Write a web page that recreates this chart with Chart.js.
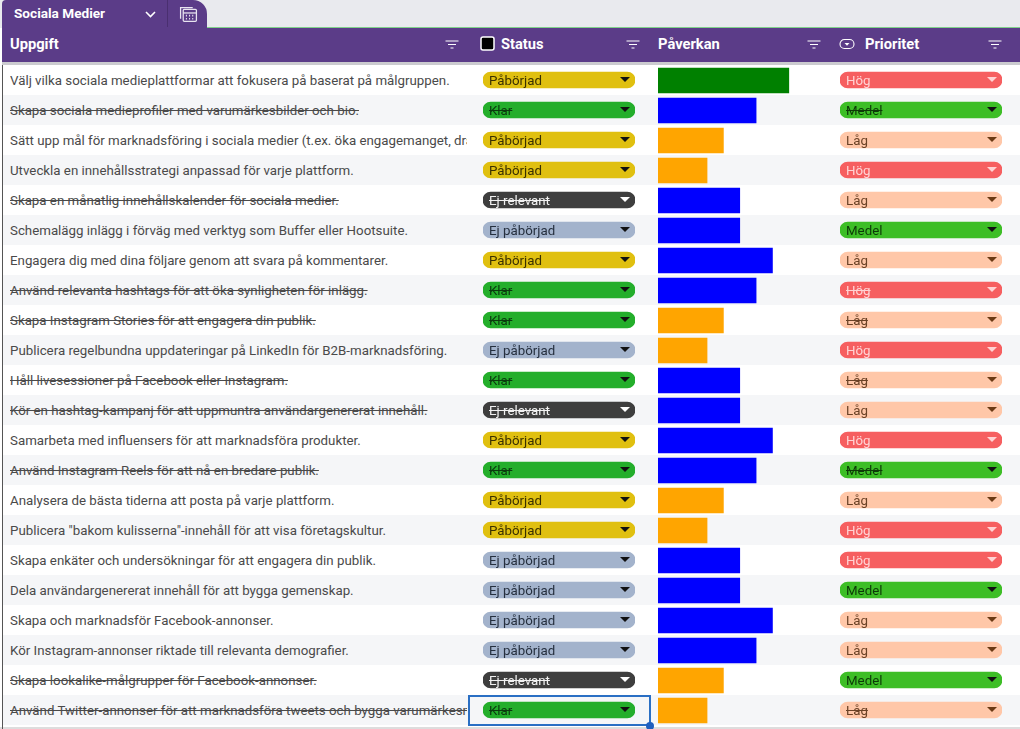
<!DOCTYPE html>
<html lang="sv"><head><meta charset="utf-8">
<script src="https://cdn.jsdelivr.net/npm/chart.js@4"></script>
<style>
html,body{margin:0;padding:0;width:1020px;height:729px;overflow:hidden;background:#fff;font-family:Roboto,sans-serif}
#top{position:absolute;left:0;top:0;width:1020px;height:28px;background:#E9EAEE}
#tab{position:absolute;left:2px;top:0;width:205px;height:28px;background:#5B3C88;border-radius:4px 14px 0 0;color:#fff;font-weight:700;font-size:13.6px;line-height:27px}
#tab span{position:absolute;left:12px;top:0}
#tabsep{position:absolute;left:165px;top:0;width:1px;height:27px;background:#4a2f70}
#hdr{position:absolute;left:2px;top:28px;width:1018px;height:34px;background:#5B3C88}
#gline{position:absolute;left:207px;top:27px;width:813px;height:1px;background:#7fd08a}
#shadow{position:absolute;left:2px;top:62px;width:1018px;height:3px;background:#CBCBCF}
#lline{position:absolute;left:2px;top:65px;width:1px;height:664px;background:#555;z-index:3}
#foot{position:absolute;left:0;top:727px;width:1020px;height:2px;background:#ddd}
.h{position:absolute;top:28px;height:34px;line-height:32px;color:#fff;font-weight:700;font-size:14.7px}
.row{position:absolute;left:3px;width:1017px;height:30px}
.task{position:absolute;left:10px;width:457px;height:30px;line-height:30px;font-size:13.3px;color:#4a4a4a;white-space:nowrap;overflow:hidden}
.lab{position:absolute;height:16px;line-height:16px;font-size:13.3px;white-space:nowrap}
.s{text-decoration:line-through}
#sel{position:absolute;left:468px;top:695px;width:183px;height:31px;box-sizing:border-box;border:2px solid #2A6FC4}
#dot{position:absolute;left:646px;top:722px;width:8px;height:8px;border-radius:50%;background:#1F5FBF}
.tri{position:absolute;width:0;height:0;border-left:5px solid transparent;border-right:5px solid transparent}
svg{position:absolute}
</style></head><body>
<div id="top"></div><div id="gline"></div>
<div id="hdr"></div><div id="shadow"></div>
<div id="tab"><span>Sociala Medier</span><div id="tabsep"></div></div>
<svg style="left:144px;top:10px" width="13" height="9" viewBox="0 0 13 9"><path d="M2 2l4.5 4.5L11 2" fill="none" stroke="#fff" stroke-width="1.6"/></svg>
<svg style="left:179px;top:4px" width="19" height="19" viewBox="0 0 18 18" fill="none" stroke="#e8e4f0" stroke-width="1.2"><path d="M1.5 14V3.5H13"/><rect x="4" y="5" width="12.5" height="11.5" rx="1"/><path d="M4 8.5h12.5"/><path d="M6.5 11h1M9.5 11h1M12.5 11h1M6.5 14h1M9.5 14h1M12.5 14h1" stroke-width="1.6"/></svg>
<div class="h" style="left:10px">Uppgift</div>
<div class="h" style="left:501px">Status</div>
<div class="h" style="left:658px">Påverkan</div>
<div class="h" style="left:865px">Prioritet</div>
<svg style="left:480px;top:36px" width="15" height="15" viewBox="0 0 15 15"><rect x="1" y="1" width="13" height="13" rx="2" fill="#000" stroke="#fff" stroke-width="1.5"/></svg>
<svg style="left:839px;top:37px" width="16" height="14" viewBox="0 0 16 14"><rect x="1" y="2.5" width="14" height="9" rx="4.5" fill="none" stroke="#fff" stroke-width="1.1"/><path d="M5.5 6h5L8 8.8z" fill="#fff"/></svg>
<div id="rows"></div>
<div id="foot"></div>
<div id="lline"></div>
<div id="charts"></div>
<div id="labels"></div>
<div id="sel"></div><div id="dot"></div>
<script>
const tasks=[
"Välj vilka sociala medieplattformar att fokusera på baserat på målgruppen.",
"Skapa sociala medieprofiler med varumärkesbilder och bio.",
"Sätt upp mål för marknadsföring i sociala medier (t.ex. öka engagemanget, dra trafik).",
"Utveckla en innehållsstrategi anpassad för varje plattform.",
"Skapa en månatlig innehållskalender för sociala medier.",
"Schemalägg inlägg i förväg med verktyg som Buffer eller Hootsuite.",
"Engagera dig med dina följare genom att svara på kommentarer.",
"Använd relevanta hashtags för att öka synligheten för inlägg.",
"Skapa Instagram Stories för att engagera din publik.",
"Publicera regelbundna uppdateringar på LinkedIn för B2B-marknadsföring.",
"Håll livesessioner på Facebook eller Instagram.",
"Kör en hashtag-kampanj för att uppmuntra användargenererat innehåll.",
"Samarbeta med influensers för att marknadsföra produkter.",
"Använd Instagram Reels för att nå en bredare publik.",
"Analysera de bästa tiderna att posta på varje plattform.",
"Publicera \"bakom kulisserna\"-innehåll för att visa företagskultur.",
"Skapa enkäter och undersökningar för att engagera din publik.",
"Dela användargenererat innehåll för att bygga gemenskap.",
"Skapa och marknadsför Facebook-annonser.",
"Kör Instagram-annonser riktade till relevanta demografier.",
"Skapa lookalike-målgrupper för Facebook-annonser.",
"Använd Twitter-annonser för att marknadsföra tweets och bygga varumärkesmedvetenhet."];
const struck=[0,1,0,0,1,0,0,1,1,0,1,1,0,1,0,0,0,0,0,0,1,1];
const prioStruck=[0,1,0,0,0,0,0,1,1,0,1,0,0,1,0,0,0,0,0,0,0,1];
const status=["Påbörjad","Klar","Påbörjad","Påbörjad","Ej relevant","Ej påbörjad","Påbörjad","Klar","Klar","Ej påbörjad","Klar","Ej relevant","Påbörjad","Klar","Påbörjad","Påbörjad","Ej påbörjad","Ej påbörjad","Ej påbörjad","Ej påbörjad","Ej relevant","Klar"];
const paverkan=[8,6,4,3,5,5,7,6,4,3,5,5,7,6,4,3,5,5,7,6,4,3];
const prioritet=["Hög","Medel","Låg","Hög","Låg","Medel","Låg","Hög","Låg","Hög","Låg","Låg","Hög","Medel","Låg","Hög","Hög","Medel","Låg","Låg","Medel","Låg"];
const statusFill={"Påbörjad":"#E0C010","Klar":"#24AE2B","Ej relevant":"#3E3E3E","Ej påbörjad":"#A3B3CC"};
const statusText={"Påbörjad":"#3a3000","Klar":"#0b3a0e","Ej relevant":"#f2f2f2","Ej påbörjad":"#26303f"};
const statusArrow={"Påbörjad":"#111","Klar":"#111","Ej relevant":"#fff","Ej påbörjad":"#111"};
const prioFill={"Hög":"#F65F60","Medel":"#3DBE26","Låg":"#FFC7A8"};
const prioText={"Hög":"#FFD3D3","Medel":"#0d3a08","Låg":"#6b4226"};
const prioArrow={"Hög":"#FFD3D3","Medel":"#111","Låg":"#6b3a14"};
const barColour=v=>v>=8?"#008000":v>=5?"#0000FF":"#FFA500";

const rowsEl=document.getElementById('rows'),labelsEl=document.getElementById('labels'),chartsEl=document.getElementById('charts');
const ROW=30,TOP=65;
[445,626,807,988].forEach(x=>document.body.insertAdjacentHTML('beforeend',`<svg style="left:${x}px;top:40px" width="14" height="10" viewBox="0 0 14 10"><path d="M.5 1h13M3 4.5h8M5.5 8h3" stroke="#fff" stroke-width="1"/></svg>`));
tasks.forEach((t,i)=>{
  const y=TOP+i*ROW, py=y+8;
  rowsEl.insertAdjacentHTML('beforeend',`<div class="row" style="top:${y}px;background:${i%2?'#F5F6F8':'#fff'}"></div>`);
  labelsEl.insertAdjacentHTML('beforeend',`<div class="task${struck[i]?' s':''}" style="top:${y+1}px">${t.replace(/"/g,'&quot;')}</div>`);
  labelsEl.insertAdjacentHTML('beforeend',`<div class="lab${struck[i]?' s':''}" style="left:489px;top:${py}px;color:${statusText[status[i]]}">${status[i]}</div>`);
  labelsEl.insertAdjacentHTML('beforeend',`<div class="tri" style="left:620px;top:${y+12}px;border-top:5px solid ${statusArrow[status[i]]}"></div>`);
  labelsEl.insertAdjacentHTML('beforeend',`<div class="lab${prioStruck[i]?' s':''}" style="left:846px;top:${py}px;color:${prioText[prioritet[i]]}">${prioritet[i]}</div>`);
  labelsEl.insertAdjacentHTML('beforeend',`<div class="tri" style="left:987px;top:${y+12}px;border-top:5px solid ${prioArrow[prioritet[i]]}"></div>`);
});
function build(left,width,top,height,pad,data,colours,thick,radius,max){
  const c=document.createElement('canvas');c.width=width;c.height=height;
  c.style.cssText=`position:absolute;left:${left}px;top:${top}px;width:${width}px;height:${height}px`;
  chartsEl.appendChild(c);
  new Chart(c,{type:'bar',data:{labels:tasks,datasets:[{data,backgroundColor:colours,barThickness:thick,borderRadius:radius,borderSkipped:false,borderWidth:0}]},
    options:{indexAxis:'y',responsive:false,animation:false,devicePixelRatio:1,
      layout:{padding:{top:pad,bottom:pad,left:0,right:0}},
      plugins:{legend:{display:false},tooltip:{enabled:false}},
      scales:{x:{display:false,min:0,max,grid:{display:false}},y:{display:false,grid:{display:false}}}}});
}
build(658,164,65,661,0.5,paverkan,paverkan.map(barColour),25,0,10.03);
build(483,152,65,660,0,status.map(()=>1),status.map(s=>statusFill[s]),16,8,1);
build(840,162,65,660,0,prioritet.map(()=>1),prioritet.map(p=>prioFill[p]),16,8,1);
</script>
</body></html>
